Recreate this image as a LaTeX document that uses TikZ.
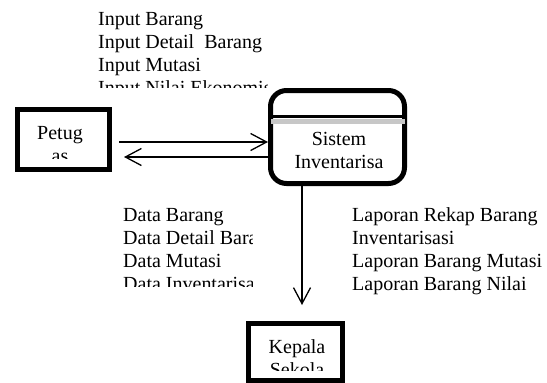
\documentclass[tikz,border=0pt]{standalone}
\usepackage{fontspec}
\setmainfont{Liberation Serif}
\usetikzlibrary{arrows.meta,positioning}

\tikzset{
  teks/.style={inner sep=0pt, align=left, font=\fontsize{20}{23}\selectfont},
  entitas/.style={draw, line width=5pt, inner sep=0pt},
  proses/.style={draw, line width=5pt, rounded corners=16pt, inner sep=0pt},
  aliran/.style={line width=1.3pt, -{Straight Barb[length=16pt,width=17pt,line width=1.3pt]}}
}

\begin{document}
\begin{tikzpicture}[x=1pt,y=-1pt]
                    \useasboundingbox (0,0) rectangle (547,383);
                    \node [entitas, minimum width=92pt, minimum height=60pt] (petugas) at (63.5,139.5) {};
                    \node [proses, minimum width=134pt, minimum height=93pt] (sistem) at (337.5,137) {};
                    \node [entitas, minimum width=94pt, minimum height=57pt] (kepala) at (295.5,352) {};
                    \draw [line width=3pt] ([yshift=-28.5pt]sistem.north west) -- ([yshift=-28.5pt]sistem.north east);
                    \fill [black!22] ([xshift=2.5pt,yshift=-30.5pt]sistem.north west) rectangle ([xshift=-2.5pt,yshift=-36pt]sistem.north east);
                    \node [teks, anchor=base, align=center] (sistemteks) at (339,168) {Sistem\\Inventarisa};
                    \begin{scope}
                      \clip (20,112) rectangle (107,158);
                      \node [teks, anchor=base, align=center] (petugasteks) at (60,162) {Petug\\as};
                    \end{scope}
                    \begin{scope}
                      \clip (250,326) rectangle (340,370);
                      \node [teks, anchor=base, align=center] (kepalateks) at (297,376) {Kepala\\Sekola};
                    \end{scope}
                    \draw [aliran, shorten <=7pt] ([yshift=-5pt]sistem.west -| petugas.east) -- ([yshift=-5pt]sistem.west);
                    \draw [aliran, shorten >=12pt] ([yshift=-20pt]sistem.west) -- ([yshift=-20pt]sistem.west -| petugas.east);
                    \draw [aliran, shorten >=16pt] ([xshift=-35.5pt]sistem.south) -- ([xshift=-35.5pt]sistem.south |- kepala.north);
                    \begin{scope}
                      \clip (90,0) rectangle (267,87);
                      \node [teks, anchor=base west] (masukan) at (98,94) {Input Barang\\Input Detail\ \ Barang\\Input Mutasi\\Input Nilai Ekonomis};
                    \end{scope}
                    \begin{scope}
                      \clip (115,200) rectangle (252,286);
                      \node [teks, anchor=base west] (data) at (123,290) {Data Barang\\Data Detail Barang\\Data Mutasi\\Data Inventarisasi};
                    \end{scope}
                    \node [teks, anchor=base west] (laporan) at (352,290) {Laporan Rekap Barang\\Inventarisasi\\Laporan Barang Mutasi\\Laporan Barang Nilai};
\end{tikzpicture}
\end{document}
